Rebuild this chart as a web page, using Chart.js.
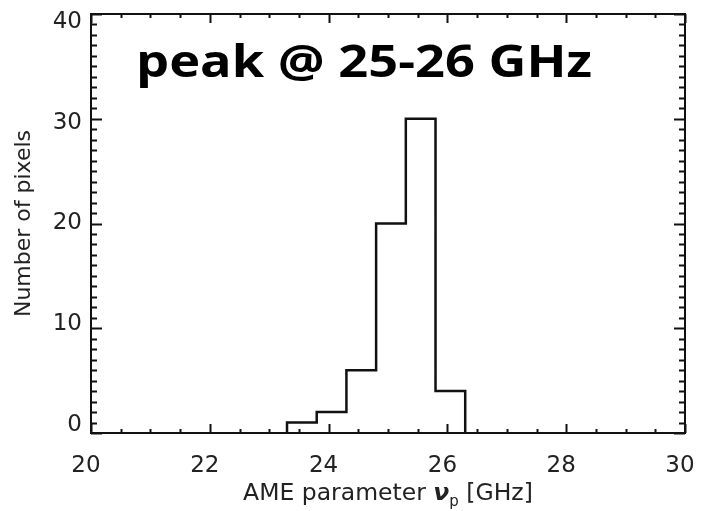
<!DOCTYPE html>
<html>
<head>
<meta charset="utf-8">
<script src="https://cdn.jsdelivr.net/npm/chart.js@4/dist/chart.umd.min.js"></script>
<style>
  html, body { margin: 0; padding: 0; background: #fff; }
  #wrap { width: 702px; height: 511px; }
</style>
</head>
<body>
<div id="wrap"><canvas id="histChart"></canvas></div>
<script>
// bin edges (GHz) and number of pixels in each bin
const binEdges = [23.3, 23.8, 24.3, 24.8, 25.3, 25.8, 26.3];
const pixelCounts = [1, 2, 6, 20, 30, 4];
const xTicks = [20, 22, 24, 26, 28, 30];
const yTicks = [0, 10, 20, 30, 40];
const peakLabel = 'peak @ 25-26 GHz';

const axisFont = { family: 'DejaVu Sans', size: 23 };
const inkColor = '#222';

// outline of the histogram as a stepped line
const outline = [{ x: binEdges[0], y: 0 }];
pixelCounts.forEach((c, i) => outline.push({ x: binEdges[i], y: c }));
outline.push({ x: binEdges[binEdges.length - 1], y: 0 });

// box around the plot with inward ticks on all four sides
const frameTicks = {
  id: 'frameTicks',
  afterDatasetsDraw(chart) {
    const { ctx, chartArea: a, scales: { x, y } } = chart;
    ctx.save();
    ctx.strokeStyle = '#111';
    ctx.lineWidth = 2;
    ctx.beginPath();
    for (let v = x.min; v <= x.max + 1e-6; v += 0.5) {
      const px = Math.round(x.getPixelForValue(v)) + 0.5;
      const len = xTicks.some(t => Math.abs(t - v) < 1e-6) ? 9 : 4;
      ctx.moveTo(px, a.bottom); ctx.lineTo(px, a.bottom - len);
      ctx.moveTo(px, a.top); ctx.lineTo(px, a.top + len);
    }
    for (let v = y.min; v <= y.max + 1e-6; v += 1) {
      const py = Math.round(y.getPixelForValue(v)) + 0.5;
      const len = yTicks.includes(v) ? 11 : 6;
      ctx.moveTo(a.left, py); ctx.lineTo(a.left + len, py);
      ctx.moveTo(a.right, py); ctx.lineTo(a.right - len, py);
    }
    ctx.stroke();
    ctx.strokeRect(a.left, a.top, a.right - a.left, a.bottom - a.top);
    ctx.restore();
  }
};

// y tick labels (pulled slightly toward the middle), x title, peak note
const labels = {
  id: 'labels',
  afterDraw(chart) {
    const { ctx, chartArea: a, scales: { y } } = chart;
    ctx.save();
    ctx.fillStyle = inkColor;

    ctx.font = '23px "DejaVu Sans"';
    ctx.textAlign = 'right';
    ctx.textBaseline = 'middle';
    const mid = (a.top + a.bottom) / 2;
    yTicks.forEach(v => {
      const py = y.getPixelForValue(v);
      ctx.fillText(String(v), a.left - 9, py + (mid - py) * 0.04);
    });

    ctx.textAlign = 'left';
    ctx.textBaseline = 'alphabetic';
    const parts = [
      { t: 'AME parameter ', f: '23.5px "DejaVu Sans"', dy: 0 },
      { t: '\u03BD', f: 'italic bold 23.5px "DejaVu Sans"', dy: 0 },
      { t: 'p', f: '15px "DejaVu Sans"', dy: 6 },
      { t: ' [GHz]', f: '23.5px "DejaVu Sans"', dy: 0 }
    ];
    let total = 0;
    parts.forEach(p => { ctx.font = p.f; p.w = ctx.measureText(p.t).width; total += p.w; });
    let cx = (a.left + a.right) / 2 - total / 2;
    const base = a.bottom + 67;
    parts.forEach(p => {
      ctx.font = p.f;
      ctx.fillText(p.t, cx, base + p.dy);
      cx += p.w;
    });

    // wide bold note near the top left of the plot
    ctx.fillStyle = '#000';
    ctx.font = 'bold 44px "Open Sans"';
    const w = ctx.measureText(peakLabel).width;
    const sx = 456 / w;
    ctx.translate(a.left + 45, a.top + 63);
    ctx.scale(sx, 1);
    ctx.fillText(peakLabel, 0, 0);
    ctx.restore();
  }
};

new Chart(document.getElementById('histChart'), {
  type: 'line',
  data: {
    datasets: [{
      data: outline,
      stepped: 'before',
      borderColor: '#111',
      borderWidth: 2.5,
      pointRadius: 0,
      fill: false
    }]
  },
  options: {
    responsive: true,
    maintainAspectRatio: false,
    animation: false,
    layout: { padding: { left: 0, top: 14, right: 17, bottom: 0 } },
    plugins: { legend: { display: false }, tooltip: { enabled: false } },
    scales: {
      x: {
        type: 'linear',
        min: 20,
        max: 30,
        afterFit: s => { s.height = 78; s.paddingLeft = 0; s.paddingRight = 0; },
        afterBuildTicks: s => { s.ticks = xTicks.map(v => ({ value: v })); },
        grid: { display: false, drawTicks: false },
        border: { display: false },
        ticks: { color: inkColor, font: axisFont, padding: 19, maxRotation: 0, labelOffset: -5 },
        title: { display: false }
      },
      y: {
        min: 0,
        max: 40,
        afterFit: s => { s.width = 91; s.paddingTop = 0; s.paddingBottom = 0; },
        afterBuildTicks: s => { s.ticks = yTicks.map(v => ({ value: v })); },
        grid: { display: false, drawTicks: false },
        border: { display: false },
        ticks: { display: false },
        title: {
          display: true,
          text: 'Number of pixels',
          color: inkColor,
          font: { family: 'DejaVu Sans', size: 22 },
          padding: { top: 11, bottom: 0 }
        }
      }
    }
  },
  plugins: [frameTicks, labels]
});
</script>
</body>
</html>
